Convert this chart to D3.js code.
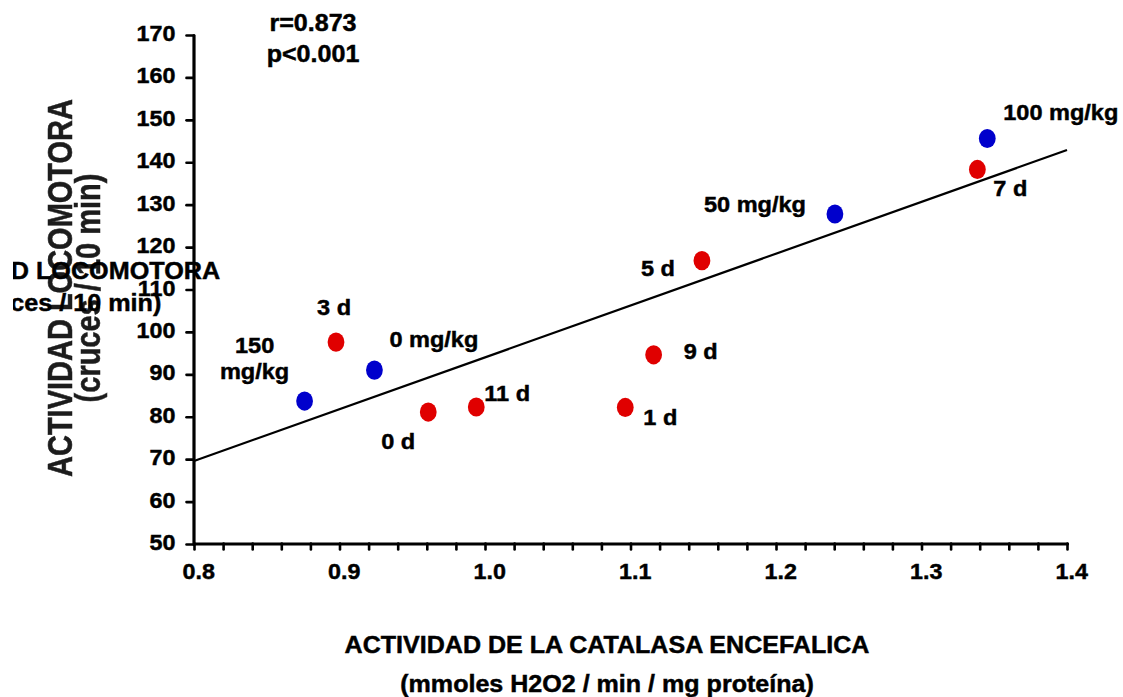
<!DOCTYPE html>
<html>
<head>
<meta charset="utf-8">
<script src="https://cdn.jsdelivr.net/npm/d3@7"></script>
<style>
    body { margin: 0; background: #fff; }
    svg { display: block; }
    text { font-family: "Liberation Sans", Arial, sans-serif; font-weight: bold; fill: #000; stroke: #000; stroke-width: 0.45px; }
</style>
</head>
<body>
<svg width="1123" height="697"></svg>
<script>
// I. Données

// dosis (puntos azules)
let dosisEtiquetas = [["150", "mg/kg"], ["0 mg/kg"], ["50 mg/kg"], ["100 mg/kg"]];
let dosisCatalasa = [0.876, 0.924, 1.2405, 1.3452];
let dosisActividad = [83.7, 91.0, 127.8, 145.6];

// días (puntos rojos)
let diasEtiquetas = [["3 d"], ["0 d"], ["11 d"], ["1 d"], ["9 d"], ["5 d"], ["7 d"]];
let diasCatalasa = [0.8976, 0.961, 0.994, 1.0964, 1.1159, 1.1491, 1.3384];
let diasActividad = [97.6, 81.1, 82.3, 82.2, 94.6, 116.8, 138.3];

// recta de regresión
let pendiente = 122.2;
let intercepto = -28.2;
let estadisticos = ["r=0.873", "p<0.001"];

// ejes
let xTicks = [0.8, 0.9, 1.0, 1.1, 1.2, 1.3, 1.4];
let xTickLabels = ["0.8", "0.9", "1.0", "1.1", "1.2", "1.3", "1.4"];
let yTicks = [50, 60, 70, 80, 90, 100, 110, 120, 130, 140, 150, 160, 170];
let tituloX = ["ACTIVIDAD DE LA CATALASA ENCEFALICA", "(mmoles H2O2 / min / mg proteína)"];
let tituloY = ["ACTIVIDAD LOCOMOTORA", "(cruces / 10 min)"];

// desplazamiento de las etiquetas (px) : [dx, dy, ancla]
let dosisDesp = [[-50, -48, "middle"], [15, -23, "start"], [-29, -2, "end"], [16, -18, "start"]];
let diasDesp = [[-2, -27, "middle"], [-13, 37, "end"], [8, -6, "start"], [18, 18, "start"],
                [30, 4, "start"], [-27, 15, "end"], [16, 27, "start"]];

// II. Dessin
let svg = d3.select("svg");

let x = d3.scaleLinear().domain([0.8, 1.4]).range([194, 1067]);
let y = d3.scaleLinear().domain([50, 170]).range([544, 35]);

function texto(g, str, px, py, ancla, taille, sx) {
    return g.append("text")
        .attr("transform", `translate(${px},${py}) scale(${sx},1)`)
        .attr("text-anchor", ancla)
        .style("font-size", taille + "px")
        .text(str);
}

// titre Y tourné (gris, flou)
let defs = svg.append("defs");
defs.append("filter").attr("id", "flou")
    .append("feGaussianBlur").attr("stdDeviation", 0.45);
defs.append("clipPath").attr("id", "coupe")
    .append("rect").attr("x", 13).attr("y", 240).attr("width", 260).attr("height", 90);

let titreRot = svg.append("g").attr("filter", "url(#flou)");
[72, 100].forEach((bx, i) => {
    titreRot.append("text")
        .attr("transform", `translate(${bx},288) rotate(-90) scale(1,1.18)`)
        .attr("text-anchor", "middle")
        .style("font-size", "29px")
        .style("fill", "#1e1e1e")
        .style("stroke", "#1e1e1e")
        .text(tituloY[i]);
});

// axe Y
let axeY = svg.append("g")
    .attr("transform", "translate(193.5,0)")
    .call(d3.axisLeft(y).tickValues(yTicks).tickSize(7).tickSizeOuter(0).tickPadding(10));

// axe X
let mineurs = d3.range(40, 71).map(i => i / 50);
let axeX = svg.append("g")
    .attr("transform", "translate(0,543.5)")
    .call(d3.axisBottom(x).tickValues(mineurs).tickSize(6).tickSizeOuter(0).tickPadding(15)
        .tickFormat(d => {
            let i = xTicks.findIndex(t => Math.abs(t - d) < 1e-6);
            return i >= 0 ? xTickLabels[i] : "";
        }));

[axeX, axeY].forEach(a => {
    a.select(".domain").attr("stroke", "#000").attr("stroke-width", 3.2).attr("stroke-linecap", "round");
    a.selectAll(".tick line").attr("stroke", "#000").attr("stroke-width", 2.6).attr("stroke-linecap", "round");
    a.selectAll(".tick text")
        .attr("font-family", null).attr("font-size", null).attr("fill", null)
        .style("font-size", "22px");
});
axeY.selectAll(".tick text").attr("dy", "0.25em").attr("transform", "scale(1.06,1)");
axeX.selectAll(".tick text").attr("x", 4).attr("dy", "0.68em").attr("transform", "scale(1.06,1)");

// recta de regresión
svg.append("line")
    .attr("x1", x(0.8)).attr("y1", y(intercepto + pendiente * 0.8))
    .attr("x2", x(1.4)).attr("y2", y(intercepto + pendiente * 1.4))
    .attr("stroke", "#000").attr("stroke-width", 2.2);

// puntos
let dosis = dosisCatalasa.map((c, i) => ({c: c, a: dosisActividad[i], lab: dosisEtiquetas[i], d: dosisDesp[i]}));
let dias = diasCatalasa.map((c, i) => ({c: c, a: diasActividad[i], lab: diasEtiquetas[i], d: diasDesp[i]}));

function dessinePoints(donnees, couleur) {
    svg.append("g").selectAll("ellipse").data(donnees).enter()
        .append("ellipse")
        .attr("cx", d => x(d.c))
        .attr("cy", d => y(d.a))
        .attr("rx", 8.4)
        .attr("ry", 9.6)
        .attr("fill", couleur);

    let etiquettes = svg.append("g");
    donnees.forEach(d => {
        d.lab.forEach((l, j) => {
            texto(etiquettes, l, x(d.c) + d.d[0], y(d.a) + d.d[1] + j * 26, d.d[2], 22, 1.07);
        });
    });
}

dessinePoints(dias, "#e00000");
dessinePoints(dosis, "#0000cc");

// r et p
let stats = svg.append("g");
texto(stats, estadisticos[0], 313, 31, "middle", 23, 1.09);
texto(stats, estadisticos[1], 313, 62, "middle", 23, 1.09);

// titre X
let titreX = svg.append("g");
texto(titreX, tituloX[0], 607, 653, "middle", 23, 1.09);
texto(titreX, tituloX[1], 607, 692, "middle", 23, 1.09);

// titre Y horizontal (par-dessus, coupé à gauche comme dans l'original)
let titreH = svg.append("g").attr("clip-path", "url(#coupe)");
texto(titreH, tituloY[0], 56, 279, "middle", 24, 1.05);
texto(titreH, tituloY[1], 62, 311, "middle", 24, 1.05);
</script>
</body>
</html>
